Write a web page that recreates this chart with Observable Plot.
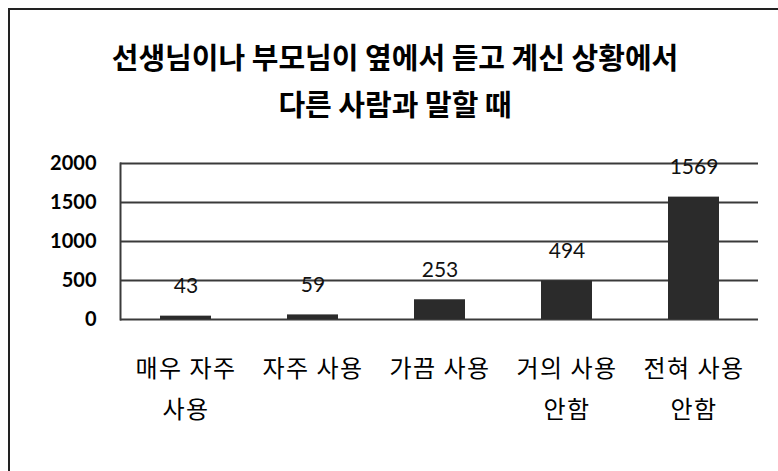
<!DOCTYPE html>
<html><head><meta charset="utf-8">
<script src="https://cdn.jsdelivr.net/npm/d3@7"></script>
<script src="https://cdn.jsdelivr.net/npm/@observablehq/plot@0.6"></script>
<style>
html,body{margin:0;padding:0;background:#fff;}
#wrap{position:absolute;left:8px;top:8px;width:770px;height:463px;border-left:2px solid #222;border-top:2px solid #222;box-sizing:border-box;}
#title{position:absolute;left:0;top:0;width:778px;text-align:center;font-family:"Noto Sans CJK KR";font-weight:bold;font-size:29px;line-height:47px;padding-top:33px;padding-left:12px;box-sizing:border-box;color:#000;}
#chart{position:absolute;left:0;top:140px;width:778px;}
#chart svg{max-width:none;}
</style></head>
<body>
<div id="wrap"></div>
<div id="title">선생님이나 부모님이 옆에서 듣고 계신 상황에서<br>다른 사람과 말할 때</div>
<div id="chart"></div>
<script>
const categories = ["매우 자주\n사용", "자주 사용", "가끔 사용", "거의 사용\n안함", "전혀 사용\n안함"];
const values = [43, 59, 253, 494, 1569];
const yTicks = [0, 500, 1000, 1500, 2000];

const data = categories.map((c, i) => ({cat: c, value: values[i]}));

const plot = Plot.plot({
  width: 778,
  height: 331,
  marginTop: 23,
  marginBottom: 152,
  marginLeft: 120,
  marginRight: 20,
  style: {fontFamily: "Lato, 'Noto Sans CJK KR'", background: "transparent", color: "#000"},
  x: {domain: categories, paddingInner: 0.6, paddingOuter: 0.3, label: null},
  y: {domain: [0, 2000], label: null},
  marks: [
    Plot.ruleY(yTicks, {stroke: "#3a3a3a", strokeWidth: 2}),
    Plot.frame({anchor: "left", stroke: "#3a3a3a", strokeWidth: 2}),
    Plot.barY(data, {x: "cat", y: "value", fill: "#2b2b2b"}),
    Plot.text(data, {x: "cat", y: "value", text: d => String(d.value), dy: -30, fontSize: 21, fill: "#111", fontFamily: "Lato"}),
    Plot.axisY({ticks: yTicks, tickFormat: d => String(d), tickSize: 0, tickPadding: 24, fontSize: 20, fontFamily: "Lato", fontWeight: "bold", label: null}),
    Plot.axisX({tickSize: 0, tickPadding: 29, fontSize: 24, lineHeight: 1.7, fontFamily: "Noto Sans CJK KR", label: null})
  ]
});
plot.querySelectorAll("[aria-label='x-axis tick label'] text").forEach(t => t.style.letterSpacing = "1.5px");
document.getElementById("chart").appendChild(plot);
</script>
</body></html>
